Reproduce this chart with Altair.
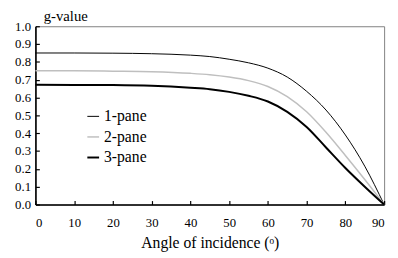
import altair as alt
import pandas as pd

angles = [0, 10, 20, 30, 40, 45, 50, 55, 60, 65, 70, 75, 80, 85, 90]
pane1 = [0.850, 0.850, 0.849, 0.846, 0.838, 0.830, 0.815, 0.795, 0.765, 0.715, 0.635, 0.530, 0.390, 0.215, 0.0]
pane2 = [0.750, 0.750, 0.748, 0.745, 0.736, 0.728, 0.715, 0.695, 0.662, 0.605, 0.520, 0.405, 0.275, 0.140, 0.0]
pane3 = [0.672, 0.671, 0.670, 0.666, 0.655, 0.647, 0.632, 0.610, 0.578, 0.520, 0.435, 0.320, 0.205, 0.100, 0.0]
series = ["1-pane", "2-pane", "3-pane"]
x_ticks = [0, 10, 20, 30, 40, 50, 60, 70, 80, 90]
y_ticks = [0.0, 0.1, 0.2, 0.3, 0.4, 0.5, 0.6, 0.7, 0.8, 0.9, 1.0]

rows = []
for name, vals in zip(series, [pane1, pane2, pane3]):
    for a, v in zip(angles, vals):
        rows.append({"angle": a, "g": v, "type": name})
df = pd.DataFrame(rows)

FONT = "Liberation Serif"
xscale = alt.Scale(domain=[0, 90], nice=False)
yscale = alt.Scale(domain=[0, 1], nice=False)

xaxis = alt.Axis(values=x_ticks, title="Angle of incidence (ᵒ)", format="d",
                 labelPadding=16, titlePadding=6, labelOverlap=False,
                 labelFont=FONT, titleFont=FONT)
yaxis = alt.Axis(values=y_ticks, format=".1f", title="g-value", titleAngle=0,
                 titleAlign="left", titleBaseline="alphabetic", titleX=8, titleY=-6,
                 titleFontSize=15, labelPadding=9, labelOverlap=False,
                 labelFont=FONT, titleFont=FONT)

leg = alt.Legend(title=None, orient="none", legendX=51, legendY=84,
                 symbolType="stroke", symbolSize=144, labelFont=FONT,
                 labelFontSize=16, labelColor="black", labelOffset=3,
                 rowPadding=5, padding=0)

lines = alt.Chart(df).mark_line(interpolate="monotone").encode(
    x=alt.X("angle:Q", scale=xscale, axis=xaxis),
    y=alt.Y("g:Q", scale=yscale, axis=yaxis),
    color=alt.Color("type:N", scale=alt.Scale(domain=series, range=["#000000", "#bfbfbf", "#000000"]),
                    legend=leg),
    strokeWidth=alt.StrokeWidth("type:O", scale=alt.Scale(domain=series, range=[1.0, 2.0, 2.2]),
                                legend=leg),
)

chart = lines.properties(
    width=356, height=182,
    autosize=alt.AutoSizeParams(type="none"),
    padding={"left": 28, "top": 16, "right": 6, "bottom": 54},
).configure_view(stroke="#808080", strokeWidth=1).configure_axis(
    grid=False, ticks=True, tickSize=alt.ExprRef("-4"), tickColor="black", tickWidth=1.2,
    domainColor="black", domainWidth=1.6,
    labelFontSize=13, labelColor="black", labelOverlap=False,
    titleFontSize=16, titleFontWeight="normal", titleColor="black",
)

chart.save("out.html", embed_options={"renderer": "svg", "actions": False})
